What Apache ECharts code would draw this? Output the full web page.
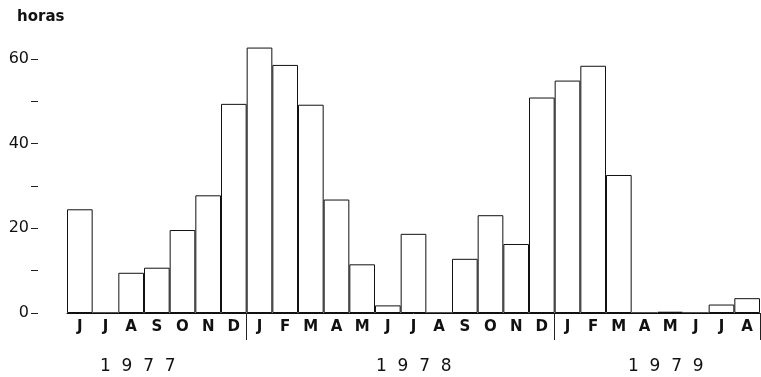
<!DOCTYPE html>
<html>
<head>
<meta charset="utf-8">
<script src="https://cdn.jsdelivr.net/npm/echarts@6/dist/echarts.min.js"></script>
<style>html,body{margin:0;padding:0;background:#fff;}#c{width:761px;height:377px;}</style>
</head>
<body>
<div id="c"></div>
<script>
var months = ['J','J','A','S','O','N','D','J','F','M','A','M','J','J','A','S','O','N','D','J','F','M','A','M','J','J','A'];
var horas = [24.5,0,9.5,10.7,19.6,27.8,49.4,62.7,58.6,49.2,26.8,11.5,1.8,18.7,0,12.8,23.1,16.3,50.9,54.9,58.4,32.6,0,0.3,0,2,3.5];
var years = ['1  9  7  7','1  9  7  8','1  9  7  9'];
var yTicks = [0,20,40,60];
var yearStartIdx = [7,19];

var chart = echarts.init(document.getElementById('c'), null, {renderer:'canvas'});
chart.setOption({
  animation:false,
  backgroundColor:'#fff',
  title:{text:'horas',left:12,top:5,textStyle:{fontFamily:'DejaVu Sans',fontSize:15,fontWeight:'bold',color:'#111'}},
  grid:{left:67,right:1,top:59,bottom:64,containLabel:false},
  xAxis:{
    type:'category',data:months,boundaryGap:true,
    axisLine:{show:true,lineStyle:{color:'#111',width:1}},
    axisTick:{show:true,length:27,interval:function(i){return yearStartIdx.indexOf(i)>=0;},lineStyle:{color:'#222',width:1}},
    axisLabel:{interval:0,margin:7,fontFamily:'DejaVu Sans',fontWeight:'bold',fontSize:15,color:'#111'}
  },
  yAxis:{
    type:'value',min:0,max:60,interval:10,offset:29,
    axisLine:{show:false},
    axisTick:{show:true,length:7,lineStyle:{color:'#222',width:1}},
    splitLine:{show:false},
    axisLabel:{margin:9,fontFamily:'DejaVu Sans',fontSize:16,color:'#111',
      formatter:function(v){return yTicks.indexOf(v)>=0?String(v):'';}}
  },
  graphic:[
    {type:'text',left:100,top:358,style:{text:years[0],font:'17px DejaVu Sans',fill:'#111'}},
    {type:'text',left:376,top:358,style:{text:years[1],font:'17px DejaVu Sans',fill:'#111'}},
    {type:'text',left:628,top:358,style:{text:years[2],font:'17px DejaVu Sans',fill:'#111'}}
  ],
  series:[{
    type:'bar',data:horas,barCategoryGap:'0%',clip:false,
    itemStyle:{color:'#fff',borderColor:'#111',borderWidth:1}
  }]
});
</script>
</body>
</html>
